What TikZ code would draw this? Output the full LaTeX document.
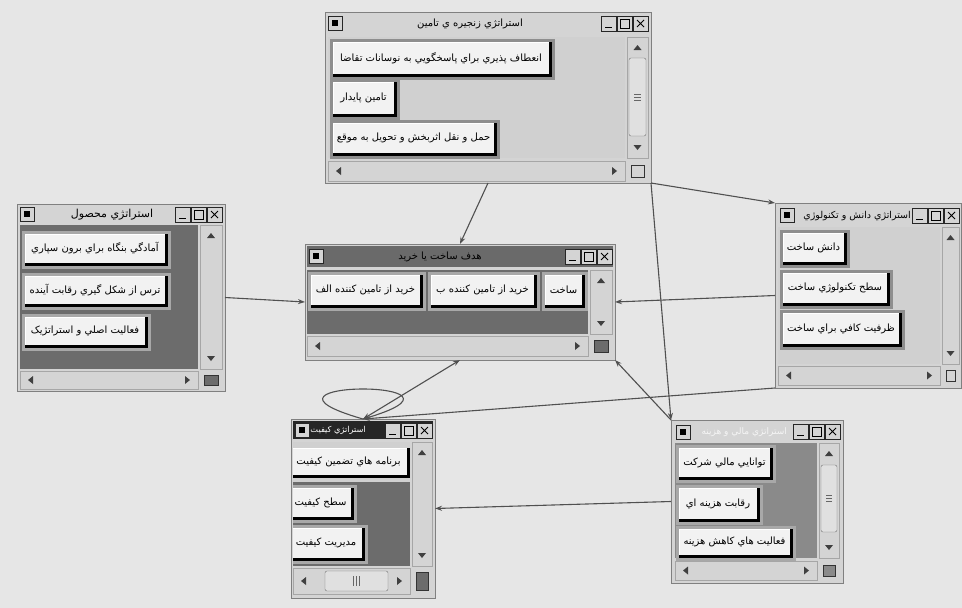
\documentclass[tikz,border=0pt]{standalone}
\usepackage{fontspec}
\usetikzlibrary{arrows.meta}
\TeXXeTstate=1
\newfontfamily\fa[Script=Arabic]{DejaVu Sans}
\definecolor{bgc}{HTML}{E6E6E6}
\definecolor{chrome}{HTML}{D4D4D4}
\definecolor{darkc}{HTML}{6C6C6C}
\definecolor{midc}{HTML}{8A8A8A}
\definecolor{lightc}{HTML}{D0D0D0}
\definecolor{face}{HTML}{F2F2F2}
\definecolor{frdark}{HTML}{8E8E8E}
\definecolor{frlight}{HTML}{A8A8A8}
\definecolor{linec}{HTML}{505050}
\definecolor{darkt}{HTML}{6A6A6A}
\newcommand\fat[1]{{\fa #1}}
\tikzset{
  win/.style={rectangle, fill=chrome, draw=black!50, line width=.8pt, inner sep=0, outer sep=0, anchor=north west},
  tbbox/.style={fill=chrome, draw=black!85, line width=.7pt},
  ttl/.style={inner sep=0, font=\fontsize{10}{12}\selectfont},
  btxt/.style={inner sep=0, font=\fontsize{10}{12}\selectfont},
  frcol/.style={fill=frdark},
  conn/.style={draw=linec, line width=1.1pt, -{Stealth[length=7pt,width=5pt]}},
  conn2/.style={draw=linec, line width=1.1pt, {Stealth[length=7pt,width=5pt]}-{Stealth[length=7pt,width=5pt]}}
}
% title bar buttons: right x, top y
\newcommand\tbtns[2]{%
  \foreach \k in {0,1,2}{\filldraw[tbbox] ({#1-(\k+1)*16},{#2+1}) rectangle ({#1-\k*16-1},{#2+16});}
  \draw[line width=1.3pt] ({#1-44},{#2+12.5}) -- ({#1-37},{#2+12.5});
  \draw[line width=.9pt] ({#1-29},{#2+4}) rectangle ({#1-20},{#2+13});
  \draw[line width=1pt] ({#1-12},{#2+5}) -- ({#1-5},{#2+12}) ({#1-12},{#2+12}) -- ({#1-5},{#2+5});
}
\newcommand\icon[2]{%
  \filldraw[tbbox] (#1,#2) rectangle (#1+14,#2+14);
  \fill[black] (#1+4,#2+4) rectangle (#1+10,#2+10);
}
% button: name, x1,y1,x2,y2, text
\newcommand\btn[6]{%
  \fill[frcol] (#2-3,#3-3) rectangle (#4+3,#5+3);
  \fill[black] (#2,#3) rectangle (#4,#5);
  \fill[face] (#2,#3) rectangle (#4-3,#5-3);
  \draw[white,line width=1pt] (#2+.5,#5-3) -- (#2+.5,#3+.5) -- (#4-3,#3+.5);
  \node[btxt] (#1) at ({(#2+#4-3)/2},{(#3+#5-3)/2}) {\fat{#6}};
}
\newcommand\vscroll[4]{%
  \fill[chrome] (#1,#2) rectangle (#3,#4);
  \draw[black!35] (#1,#2) rectangle (#3,#4);
  \fill[black!75] ({(#1+#3)/2},#2+8) -- ++(-4,5) -- ++(8,0) -- cycle;
  \fill[black!75] ({(#1+#3)/2},#4-8) -- ++(-4,-5) -- ++(8,0) -- cycle;
}
\newcommand\hscroll[4]{%
  \fill[chrome] (#1,#2) rectangle (#3,#4);
  \draw[black!35] (#1,#2) rectangle (#3,#4);
  \fill[black!75] (#1+8,{(#2+#4)/2}) -- ++(5,-4) -- ++(0,8) -- cycle;
  \fill[black!75] (#3-8,{(#2+#4)/2}) -- ++(-5,-4) -- ++(0,8) -- cycle;
}
\newcommand\corner[5]{%
  \fill[chrome] (#1,#2) rectangle (#3,#4);
  \filldraw[fill=#5, draw=black!80, line width=.8pt] (#1+4,#2+4) rectangle (#3-4,#4-4);
}
\newcommand\vthumb[4]{%
  \filldraw[fill=black!12, draw=black!55, rounded corners=2pt] (#1,#2) rectangle (#3,#4);
  \foreach \d in {-3,0,3}{\draw[black!60] ({#1+5},{(#2+#4)/2+\d}) -- ({#3-5},{(#2+#4)/2+\d});}
}
\begin{document}
\begin{tikzpicture}[x=1pt,y=-1pt]
\useasboundingbox (0,0) rectangle (962,608);
\fill[bgc] (0,0) rectangle (962,608);

% ---------- W1 supply chain ----------
\node[win, minimum width=326pt, minimum height=171pt] (w1) at (325,12) {};
\icon{328}{16}
\node[ttl] (t1) at (470,24) {\fat{\beginR استراتژي زنجيره ي تامين\endR}};
\tbtns{649}{15}
\fill[lightc] (328,37) rectangle (625,158);
\btn{b11}{333}{42}{552}{77}{\beginR انعطاف پذيري براي پاسخگويي به نوسانات تقاضا\endR}
\btn{b12}{333}{82}{397}{117}{\beginR تامين پايدار\endR}
\btn{b13}{333}{123}{497}{156}{\beginR حمل و نقل اثربخش و تحويل به موقع\endR}
\vscroll{627}{37}{648}{158}
\vthumb{629}{58}{646}{136}
\hscroll{328}{161}{625}{181}
\corner{627}{161}{648}{181}{chrome}

% ---------- W2 product ----------
\node[win, minimum width=208pt, minimum height=187pt] (w2) at (17,204) {};
\icon{20}{207}
\node[ttl, font=\fontsize{11}{13}\selectfont] (t2) at (112,215) {\fat{\beginR استراتژي محصول\endR}};
\tbtns{223}{206}
\fill[darkc] (20,225) rectangle (198,369);
\begin{scope}[frcol/.style={fill=frlight}]
\btn{b21}{25}{234}{168}{266}{\beginR آمادگي بنگاه براي برون سپاري\endR}
\btn{b22}{25}{276}{168}{307}{\beginR ترس از شکل گيري رقابت آينده\endR}
\btn{b23}{25}{317}{148}{348}{\beginR فعاليت اصلي و استراتژيک\endR}
\end{scope}
\vscroll{200}{225}{222}{369}
\hscroll{20}{371}{198}{389}
\corner{200}{371}{222}{389}{darkc}

% ---------- W3 make or buy ----------
\node[win, minimum width=310pt, minimum height=116pt] (w3) at (305,244) {};
\fill[darkt] (307,246) rectangle (613,267);
\icon{309}{249}
\node[ttl] (t3) at (440,257) {\fat{\beginR هدف ساخت يا خريد\endR}};
\tbtns{613}{248}
\fill[darkc] (307,270) rectangle (588,334);
\begin{scope}[frcol/.style={fill=frlight}]
\btn{b31}{545}{275}{585}{308}{\beginR ساخت\endR}
\btn{b32}{431}{275}{537}{308}{\beginR خريد از تامين کننده ب\endR}
\btn{b33}{311}{275}{423}{308}{\beginR خريد از تامين کننده الف\endR}
\end{scope}
\vscroll{590}{270}{612}{334}
\hscroll{307}{336}{588}{356}
\corner{590}{336}{612}{356}{darkc}

% ---------- W4 knowledge & technology ----------
\node[win, minimum width=186pt, minimum height=185pt] (w4) at (775,203) {};
\icon{780}{208}
\node[ttl, anchor=east, font=\fontsize{9.5}{11}\selectfont] (t4) at (911,216) {\fat{\beginR استراتژي دانش و تکنولوژي\endR}};
\tbtns{960}{207}
\fill[lightc] (778,227) rectangle (940,364);
\btn{b41}{783}{233}{847}{265}{\beginR دانش ساخت\endR}
\btn{b42}{783}{273}{890}{306}{\beginR سطح تکنولوژي ساخت\endR}
\btn{b43}{783}{313}{902}{347}{\beginR ظرفيت کافي براي ساخت\endR}
\vscroll{942}{227}{959}{364}
\hscroll{778}{366}{940}{385}
\corner{942}{366}{959}{385}{chrome}

% ---------- W5 quality ----------
\node[win, minimum width=144pt, minimum height=179pt] (w5) at (291,419) {};
\fill[black!85] (293,421) rectangle (433,439);
\icon{295}{423}
\node[ttl, anchor=east, text=white, font=\fontsize{8.2}{10}\selectfont] (t5) at (366,430) {\fat{\beginR استراتژي کيفيت\endR}};
\tbtns{433}{422}
\begin{scope}
\clip (293,442) rectangle (410,566);
\fill[darkc] (293,442) rectangle (410,566);
\fill[lightc] (293,442) rectangle (410,482);
\begin{scope}[frcol/.style={fill=lightc}]
\btn{b51}{290}{448}{410}{478}{\beginR برنامه هاي تضمين کيفيت\endR}
\end{scope}
\begin{scope}[frcol/.style={fill=frlight}]
\btn{b52}{290}{488}{354}{520}{\beginR سطح کيفيت\endR}
\btn{b53}{290}{528}{365}{561}{\beginR مديريت کيفيت\endR}
\end{scope}
\end{scope}
\vscroll{412}{442}{432}{566}
\hscroll{293}{568}{410}{594}
\filldraw[fill=black!12, draw=black!55, rounded corners=2pt] (325,571) rectangle (388,591);
\foreach \d in {-3,0,3}{\draw[black!60] (356.5+\d,576) -- (356.5+\d,586);}
\corner{412}{568}{432}{594}{darkc}

% ---------- W6 finance & cost ----------
\node[win, minimum width=172pt, minimum height=163pt] (w6) at (671,420) {};
\icon{676}{425}
\node[ttl, anchor=east, text=white!96!black, font=\fontsize{9}{11}\selectfont] (t6) at (787,432) {\fat{\beginR استراتژي مالي و هزينه\endR}};
\tbtns{841}{423}
\fill[midc] (675,443) rectangle (817,558);
\begin{scope}[frcol/.style={fill=frlight}]
\btn{b61}{679}{448}{773}{480}{\beginR توانايي مالي شرکت\endR}
\btn{b62}{679}{488}{760}{522}{\beginR رقابت هزينه اي\endR}
\btn{b63}{679}{529}{793}{558}{\beginR فعاليت هاي کاهش هزينه\endR}
\end{scope}
\vscroll{819}{443}{839}{558}
\vthumb{821}{465}{837}{532}
\hscroll{675}{561}{817}{580}
\corner{819}{561}{839}{580}{midc}

% ---------- connectors ----------
\draw[conn] (w1.south) -- (w3.north);
\draw[conn] (w1.south east) -- (w4.north west);
\draw[conn] (w1.south east) -- (w6.north west);
\draw[conn] (w2.east) -- (w3.west);
\draw[conn] (w4.west) -- (w3.east);
\draw[conn] (w6.north west) -- (w3.south east);
\draw[conn2] (w3.south) -- (w5.north);
\draw[conn] (w4.south west) -- (w5.north);
\draw[conn] (w6.west) -- (w5.east);
\draw[draw=linec, line width=1.1pt] (w5.north) .. controls +(-140,-40) and +(140,-40) .. (w5.north);
\end{tikzpicture}
\end{document}
